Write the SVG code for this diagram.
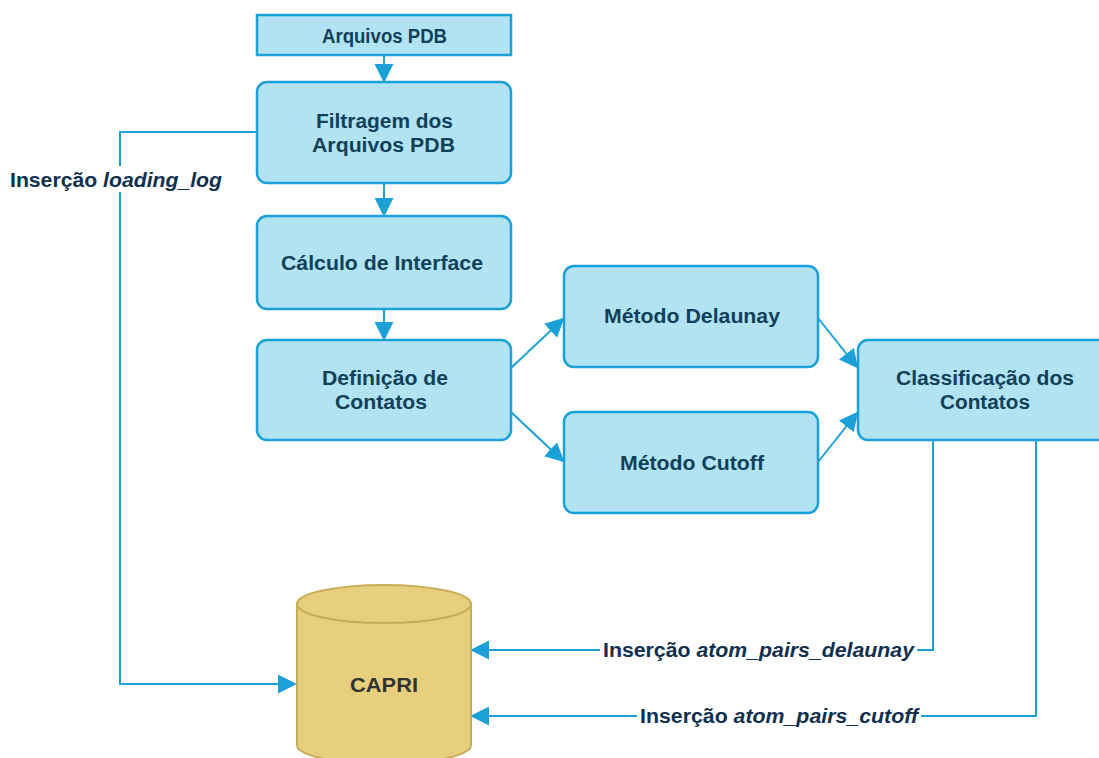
<svg xmlns="http://www.w3.org/2000/svg" width="1099" height="758" viewBox="0 0 1099 758">
<style>
.box{fill:#b1e3f3;stroke:#1ba1d8;stroke-width:2.5}
.t{font-family:"Liberation Sans",Arial,sans-serif;font-weight:bold;font-size:20px;fill:#10405a;text-anchor:middle}
.lbl{font-family:"Liberation Sans",Arial,sans-serif;font-weight:bold;font-size:20px;fill:#10304f}
.c{fill:none;stroke:#1ba1d8;stroke-width:2}
</style>
<defs>
<marker id="ahb" viewBox="0 0 10 10" refX="9" refY="5" markerWidth="19" markerHeight="19" markerUnits="userSpaceOnUse" orient="auto">
<path d="M0,0 L10,5 L0,10 z" fill="#1ba1d8"/>
</marker>
</defs>
<rect width="1099" height="758" fill="#fff"/>
<g id="connectors">
<path class="c" d="M384,55 V81" marker-end="url(#ahb)"/>
<path class="c" d="M384,183 V215" marker-end="url(#ahb)"/>
<path class="c" d="M384,309 V339" marker-end="url(#ahb)"/>
<path class="c" d="M511,368 L563,319" marker-end="url(#ahb)"/>
<path class="c" d="M511,412 L563,461" marker-end="url(#ahb)"/>
<path class="c" d="M818,318 L857,367" marker-end="url(#ahb)"/>
<path class="c" d="M818,462 L857,413" marker-end="url(#ahb)"/>
<path class="c" d="M257,132 H120 V684 H295" marker-end="url(#ahb)"/>
<path class="c" d="M933,440 V650 H472" marker-end="url(#ahb)"/>
<path class="c" d="M1036,440 V716 H472" marker-end="url(#ahb)"/>
<rect x="7" y="166" width="218" height="26" fill="#fff"/>
<text class="lbl" x="10" y="187" textLength="212" lengthAdjust="spacingAndGlyphs">Inserção <tspan font-style="italic">loading_log</tspan></text>
<rect x="600" y="638" width="317" height="26" fill="#fff"/>
<text class="lbl" x="603" y="657" textLength="311" lengthAdjust="spacingAndGlyphs">Inserção <tspan font-style="italic">atom_pairs_delaunay</tspan></text>
<rect x="637" y="704" width="284" height="26" fill="#fff"/>
<text class="lbl" x="640" y="723" textLength="278" lengthAdjust="spacingAndGlyphs">Inserção <tspan font-style="italic">atom_pairs_cutoff</tspan></text>
</g>
<g id="arquivos">
<rect class="box" x="257" y="15" width="254" height="40"/>
<text class="t" x="384.5" y="43" font-size="17" textLength="125" lengthAdjust="spacingAndGlyphs">Arquivos PDB</text>
</g>
<g id="filtragem">
<rect class="box" x="257" y="82" width="254" height="101" rx="10"/>
<text class="t" x="384.5" y="128" textLength="137" lengthAdjust="spacingAndGlyphs">Filtragem dos</text>
<text class="t" x="383.5" y="152" textLength="143" lengthAdjust="spacingAndGlyphs">Arquivos PDB</text>
</g>
<g id="calculo">
<rect class="box" x="257" y="216" width="254" height="93" rx="10"/>
<text class="t" x="382" y="270" textLength="202" lengthAdjust="spacingAndGlyphs">Cálculo de Interface</text>
</g>
<g id="definicao">
<rect class="box" x="257" y="340" width="254" height="100" rx="10"/>
<text class="t" x="385" y="385" textLength="126" lengthAdjust="spacingAndGlyphs">Definição de</text>
<text class="t" x="381" y="409" textLength="92" lengthAdjust="spacingAndGlyphs">Contatos</text>
</g>
<g id="delaunay">
<rect class="box" x="564" y="266" width="254" height="101" rx="10"/>
<text class="t" x="692" y="323" textLength="176" lengthAdjust="spacingAndGlyphs">Método Delaunay</text>
</g>
<g id="cutoff">
<rect class="box" x="564" y="412" width="254" height="101" rx="10"/>
<text class="t" x="692" y="470" textLength="144" lengthAdjust="spacingAndGlyphs">Método Cutoff</text>
</g>
<g id="classificacao">
<rect class="box" x="858" y="340" width="254" height="100" rx="10"/>
<text class="t" x="985" y="385" textLength="178" lengthAdjust="spacingAndGlyphs">Classificação dos</text>
<text class="t" x="985" y="409" textLength="90" lengthAdjust="spacingAndGlyphs">Contatos</text>
</g>
<g id="capri">
<path d="M297,604 V745 A87,19 0 0 0 471,745 V604" fill="#e8cf7e" stroke="#c9ad56" stroke-width="2"/>
<ellipse cx="384" cy="604" rx="87" ry="19" fill="#e8cf7e" stroke="#c9ad56" stroke-width="2"/>
<text class="t" x="384" y="692" textLength="68" lengthAdjust="spacingAndGlyphs" style="fill:#333">CAPRI</text>
</g>
</svg>
